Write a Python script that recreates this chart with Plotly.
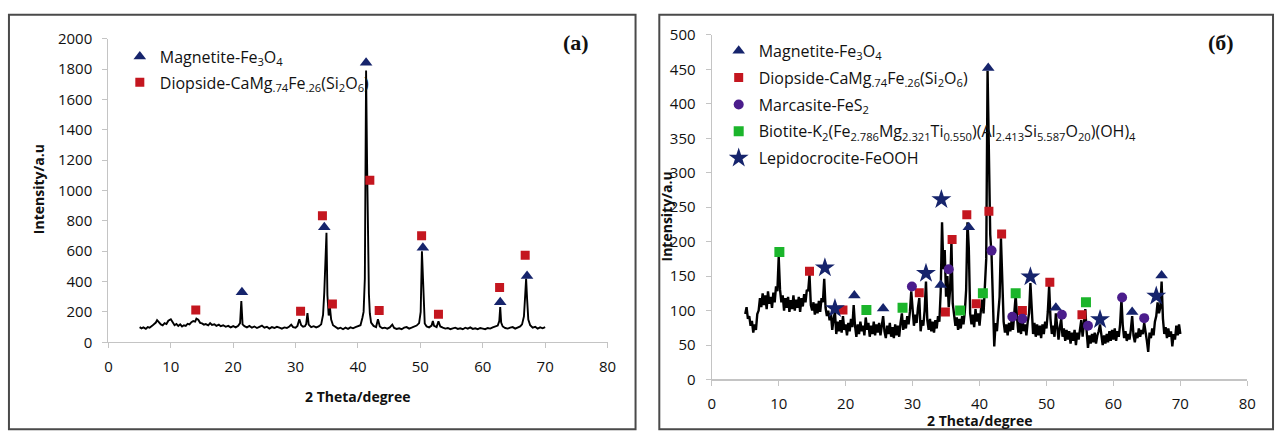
import numpy as np
import plotly.graph_objects as go

# ---------------- Panel (a) data ----------------
scan_a_1 = [(5.0,100),(5.3,92),(5.6,98),(6.0,88),(6.3,100),(6.6,96),(7.0,108),(7.3,118),(7.6,130),(7.8,146),
            (8.1,128),(8.4,118),(8.7,112),(9.0,126),(9.3,120),(9.6,142),(10.0,152),(10.3,132),(10.6,112),(10.9,120),
            (11.2,108),(11.5,118),(11.8,104),(12.1,112),(12.4,108),(12.7,122),(13.0,118),(13.3,132),(13.6,140),(13.9,136),
            (14.1,156),(14.4,148),(14.7,128),(15.0,124),(15.3,116),(15.6,120),(16.0,112),(16.3,126),(16.6,114),(17.0,118),
            (17.3,108),(17.7,116),(18.0,106),(18.4,112),(18.8,102),(19.2,108),(19.6,98),(20.0,106)]
scan_a_2 = [(20.4,98),(20.8,108),(21.1,126),(21.3,272),(21.5,118),(21.8,106),(22.2,98),(22.6,108),(23.0,96),(23.4,104),
            (23.8,94),(24.2,102),(24.6,110),(25.0,96),(25.4,102),(25.8,90),(26.2,100),(26.6,94),(27.0,102),(27.4,96),
            (27.8,90),(28.2,98),(28.6,94),(29.0,104),(29.3,116),(29.6,100),(30.0,96),(30.3,108),(30.6,152),(30.9,112),
            (31.2,102),(31.5,106),(31.7,120),(31.9,192),(32.1,116),(32.5,100),(32.9,106),(33.3,98),(33.7,104),(34.1,118),
            (34.4,180),(34.6,330),(34.8,560),(34.95,722),(35.1,310),(35.3,176),(35.5,232),(35.7,150),(36.0,112)]
scan_a_3 = [(36.4,98),(36.8,90),(37.2,96),(37.6,86),(38.0,96),(38.4,88),(38.8,98),(39.2,92),(39.6,100),(40.0,104),
            (40.4,112),(40.7,160),(40.9,200),(41.1,420),(41.3,1790),(41.45,1200),(41.6,500),(41.75,320),(41.9,190),(42.1,130),
            (42.5,108),(42.9,100),(43.2,152),(43.5,104),(43.9,92),(44.3,96),(44.7,90),(45.1,98),(45.5,116),(45.8,94),
            (46.2,88),(46.6,92),(47.0,86),(47.4,96),(47.8,100),(48.2,90),(48.6,96),(49.0,104),(49.4,110),(49.8,126),
            (50.05,200),(50.25,600),(50.45,380),(50.7,124)]
scan_a_4 = [(51.0,104),(51.4,98),(51.8,110),(52.0,140),(52.2,108),(52.6,100),(52.9,138),(53.2,104),(53.6,96),(54.0,90),
            (54.4,94),(54.8,86),(55.2,92),(55.6,96),(56.0,88),(56.4,92),(56.8,86),(57.2,96),(57.6,90),(58.0,98),
            (58.4,88),(58.8,92),(59.2,86),(59.6,94),(60.0,90),(60.4,86),(60.8,94),(61.2,90),(61.6,98),(62.0,104),
            (62.4,110),(62.65,140),(62.8,232),(62.95,130),(63.2,104),(63.6,94),(64.0,90),(64.4,96),(64.8,100),(65.2,90),
            (65.6,96),(66.0,104),(66.3,118),(66.6,170),(66.8,310),(66.95,420),(67.1,290),(67.3,150),(67.6,112),(68.0,96),
            (68.4,102),(68.8,90),(69.2,98),(69.6,92),(70.0,100)]

mag_a_x = [21.4, 34.6, 41.3, 50.4, 62.8, 67.1]
mag_a_y = [330, 757, 1842, 622, 263, 437]
dio_a_x = [14.0, 30.8, 34.3, 35.9, 41.9, 43.4, 50.2, 52.9, 62.7, 66.8]
dio_a_y = [213, 204, 833, 252, 1067, 210, 702, 185, 361, 574]

# ---------------- Panel (b) data (0.2 degree scan, each list starts at given 2theta) ----------------
SCAN_B_STEP = 0.2
y_b_05 = [95,105,88,92,78,85,68,80,72,95,100,118,105,125,108,122,102,128,110,120,104,126,112,135,128]
y_b_10 = [178,130,112,122,100,118,104,120,98,115,102,122,100,116,104,120,98,118,106,124,112,130,128,152,108]
y_b_15 = [100,112,94,110,96,114,98,118,112,146,104,92,100,86,96,72,88,98,66,84,70,86,68,92,72]
y_b_20 = [80,64,82,70,88,76,108,78,62,80,66,84,70,78,64,90,72,82,62,78,66,84,64,80,68]
y_b_25 = [82,64,78,92,70,60,78,66,82,62,76,60,80,64,78,62,82,96,72,86,74,92,80,98,128]
y_b_30 = [96,78,94,82,104,118,70,86,78,100,142,86,72,88,70,84,68,86,74,92,84,128,228,160,188]
y_b_35 = [120,150,105,130,200,110,92,78,90,72,88,74,92,80,98,130,228,190,96,80,94,76,102,84,96]
y_b_40 = [78,100,116,96,128,175,448,300,210,180,90,48,82,70,96,120,205,130,84,68,80,64,82,70,86]
y_b_45 = [72,92,122,90,68,84,66,92,70,80,64,84,96,140,92,66,82,62,80,64,78,60,80,66,84]
y_b_50 = [74,98,136,88,66,78,62,96,70,58,76,88,62,74,56,72,58,70,52,68,56,72,50,68,58]
y_b_55 = [74,86,62,78,102,70,46,64,52,66,54,68,52,64,70,80,60,50,64,52,66,54,70,56,72]
y_b_60 = [58,74,56,70,62,80,116,78,60,70,56,66,58,72,92,64,54,68,60,74,62,72,66,82,64]
y_b_65 = [56,40,68,60,74,64,84,92,112,96,104,142,88,66,76,60,74,62,70,48,66,58,78,64,80,66]
scan_b_segments = [(5.0, y_b_05), (10.0, y_b_10), (15.0, y_b_15), (20.0, y_b_20), (25.0, y_b_25),
                   (30.0, y_b_30), (35.0, y_b_35), (40.0, y_b_40), (45.0, y_b_45), (50.0, y_b_50),
                   (55.0, y_b_55), (60.0, y_b_60), (65.0, y_b_65)]

mag_b_x = [21.3, 25.6, 34.2, 38.4, 41.3, 51.4, 62.8, 67.2]
mag_b_y = [122, 103, 137, 221, 452, 104, 98, 151]
dio_b_x = [14.6, 19.6, 31.0, 34.9, 35.9, 38.1, 39.5, 41.4, 43.3, 46.4, 50.5, 55.3]
dio_b_y = [157, 101, 126, 98, 203, 239, 110, 244, 211, 100, 141, 94]
mar_b_x = [29.9, 35.4, 41.8, 44.9, 46.4, 52.3, 56.2, 61.3, 64.6]
mar_b_y = [135, 160, 187, 91, 88, 94, 78, 119, 89]
bio_b_x = [10.1, 23.1, 28.5, 37.1, 40.5, 45.4, 55.9]
bio_b_y = [185, 101, 104, 100, 125, 125, 112]
lep_b_x = [16.9, 18.4, 32.0, 34.3, 47.6, 58.0, 66.4]
lep_b_y = [162, 103, 154, 261, 149, 87, 121]

x_ticks = [0, 10, 20, 30, 40, 50, 60, 70, 80]

# ---------------- build ----------------
W, H = 1285, 441
def px(x):
    return x / W
def py(y):
    return 1 - y / H

tt_a, int_a = [], []
for seg in (scan_a_1, scan_a_2, scan_a_3, scan_a_4):
    for a, b in seg:
        tt_a.append(a)
        int_a.append(b)

tt_b, int_b = [], []
for start, vals in scan_b_segments:
    for i, v in enumerate(vals):
        tt_b.append(round(start + SCAN_B_STEP * i, 2))
        int_b.append(v)

NAVY = '#16246c'
RED = '#c4161f'
PURPLE = '#4b1d8c'
GREEN = '#1bb52b'

fig = go.Figure()
fig.add_trace(go.Scatter(x=tt_a, y=int_a, mode='lines', line=dict(color='black', width=1.9),
                         showlegend=False, xaxis='x', yaxis='y', hoverinfo='skip'))
fig.add_trace(go.Scatter(x=mag_a_x, y=mag_a_y, mode='markers', name='Magnetite-Fe<sub>3</sub>O<sub>4</sub>',
                         legendgroup='a1', marker=dict(symbol='triangle-up', size=11, color=NAVY),
                         xaxis='x', yaxis='y', legend='legend'))
fig.add_trace(go.Scatter(x=dio_a_x, y=dio_a_y, mode='markers',
                         name='Diopside-CaMg<sub>.74</sub>Fe<sub>.26</sub>(Si<sub>2</sub>O<sub>6</sub>)',
                         legendgroup='a2', marker=dict(symbol='square', size=9, color=RED),
                         xaxis='x', yaxis='y', legend='legend'))

fig.add_trace(go.Scatter(x=tt_b, y=int_b, mode='lines', line=dict(color='black', width=2.4),
                         showlegend=False, xaxis='x2', yaxis='y2', hoverinfo='skip'))
fig.add_trace(go.Scatter(x=mag_b_x, y=mag_b_y, mode='markers', name='Magnetite-Fe<sub>3</sub>O<sub>4</sub>',
                         legendgroup='b1', marker=dict(symbol='triangle-up', size=11, color=NAVY),
                         xaxis='x2', yaxis='y2', legend='legend2'))
fig.add_trace(go.Scatter(x=dio_b_x, y=dio_b_y, mode='markers',
                         name='Diopside-CaMg<sub>.74</sub>Fe<sub>.26</sub>(Si<sub>2</sub>O<sub>6</sub>)',
                         legendgroup='b2', marker=dict(symbol='square', size=9, color=RED),
                         xaxis='x2', yaxis='y2', legend='legend2'))
fig.add_trace(go.Scatter(x=mar_b_x, y=mar_b_y, mode='markers', name='Marcasite-FeS<sub>2</sub>',
                         legendgroup='b3', marker=dict(symbol='circle', size=10, color=PURPLE),
                         xaxis='x2', yaxis='y2', legend='legend2'))
fig.add_trace(go.Scatter(x=bio_b_x, y=bio_b_y, mode='markers',
                         name='Biotite-K<sub>2</sub>(Fe<sub>2.786</sub>Mg<sub>2.321</sub>Ti<sub>0.550</sub>)(Al<sub>2.413</sub>Si<sub>5.587</sub>O<sub>20</sub>)(OH)<sub>4</sub>',
                         legendgroup='b4', marker=dict(symbol='square', size=10, color=GREEN),
                         xaxis='x2', yaxis='y2', legend='legend2'))
fig.add_trace(go.Scatter(x=lep_b_x, y=lep_b_y, mode='markers', name='Lepidocrocite-FeOOH',
                         legendgroup='b5', marker=dict(symbol='star', size=15, color=NAVY),
                         xaxis='x2', yaxis='y2', legend='legend2'))

tickfont = dict(family='Open Sans', size=15, color='#111')
axis_common = dict(showline=True, linecolor='#c4c4c4', linewidth=1.2, ticks='outside', ticklen=5,
                   tickcolor='#c4c4c4', showgrid=False, zeroline=False, tickfont=tickfont, fixedrange=True)

legend_font = dict(family='Open Sans', size=16, color='#111')

fig.update_layout(
    width=W, height=H, margin=dict(l=0, r=0, t=0, b=0),
    paper_bgcolor='white', plot_bgcolor='white',
    xaxis=dict(domain=[px(105.5), px(609.7)], range=[0, 80], tickvals=x_ticks, anchor='y',
               ticklabelstandoff=6, **axis_common),
    yaxis=dict(domain=[py(347), py(29)], range=[0, 2000], dtick=200, anchor='x',
               ticklabelstandoff=7, **axis_common),
    xaxis2=dict(domain=[px(715), px(1256)], range=[0, 80], tickvals=x_ticks, anchor='y2',
                ticklabelstandoff=5, **axis_common),
    yaxis2=dict(domain=[py(386), py(25)], range=[0, 500], dtick=50, anchor='x2',
                ticklabelstandoff=7, **axis_common),
    legend=dict(x=px(117), y=py(30), xanchor='left', yanchor='top', bgcolor='rgba(0,0,0,0)',
                font=legend_font, tracegroupgap=2),
    legend2=dict(x=px(722), y=py(24), xanchor='left', yanchor='top', bgcolor='rgba(0,0,0,0)',
                 font=legend_font, tracegroupgap=3),
    showlegend=True,
)

title_font = dict(family='Open Sans', size=14, color='#111')
annos = [
    dict(text='<b>2 Theta/degree</b>', x=px(357), y=py(404), font=title_font),
    dict(text='<b>Intensity/a.u</b>', x=px(35), y=py(187), font=title_font, textangle=-90),
    dict(text='<b>2 Theta/degree</b>', x=px(985), y=py(429), font=title_font),
    dict(text='<b>Intensity/a.u</b>', x=px(669), y=py(215), font=title_font, textangle=-90),
    dict(text='<b>(a)</b>', x=px(578), y=py(33), font=dict(family='Liberation Serif', size=22, color='#111')),
    dict(text='<b>(б)</b>', x=px(1229), y=py(33), font=dict(family='Liberation Serif', size=22, color='#111')),
]
for a in annos:
    a.update(xref='paper', yref='paper', showarrow=False, xanchor='center', yanchor='middle')
fig.update_layout(annotations=annos)

shapes = [
    dict(type='rect', xref='paper', yref='paper', x0=px(5), x1=px(638), y0=py(438), y1=py(4),
         line=dict(color='#4a4a4a', width=2)),
    dict(type='rect', xref='paper', yref='paper', x0=px(662), x1=px(1282), y0=py(438), y1=py(4),
         line=dict(color='#4a4a4a', width=2)),
]
fig.update_layout(shapes=shapes)

fig.write_html('out.html', config={'displayModeBar': False, 'staticPlot': True},
               post_script="document.body.style.margin='0px';document.body.style.padding='0px';")
